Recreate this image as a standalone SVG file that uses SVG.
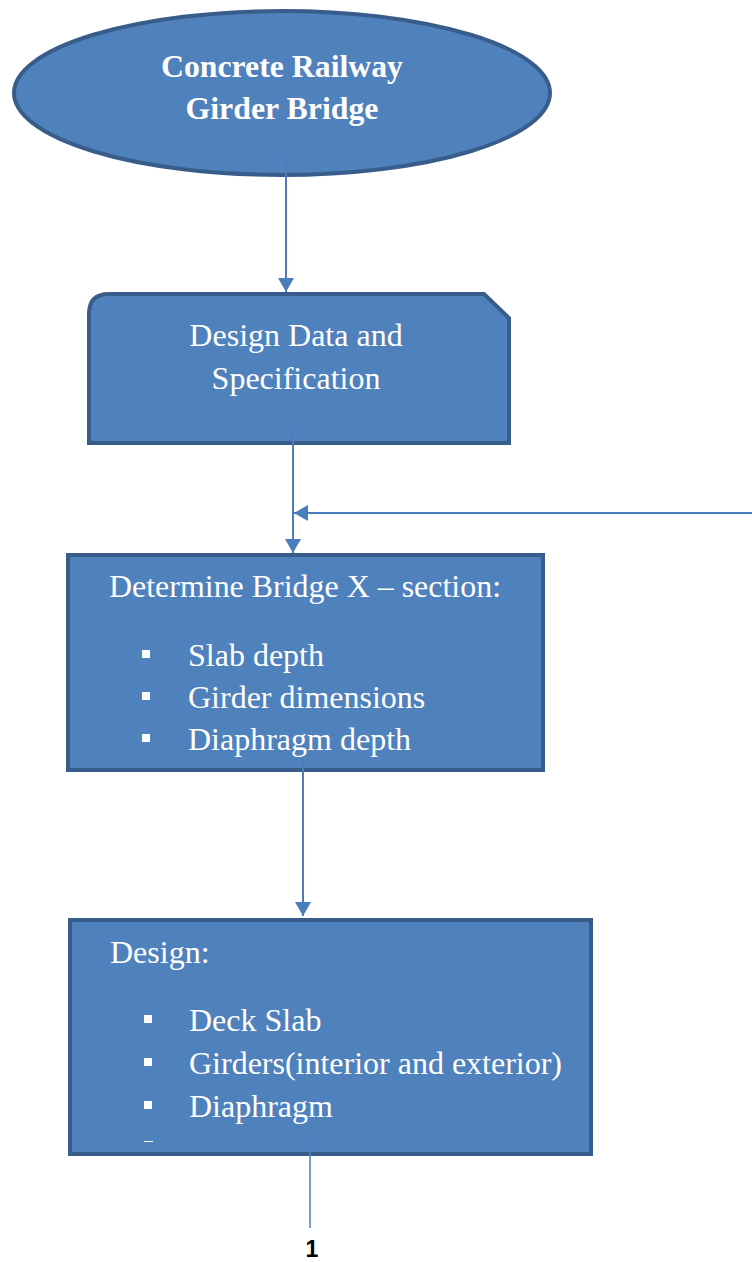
<svg xmlns="http://www.w3.org/2000/svg" width="752" height="1262" viewBox="0 0 752 1262">
<style>
.shape{fill:#4F81BD;stroke:#385D8A;stroke-width:4}
.t{font-family:"Liberation Serif","Times New Roman",serif;font-size:32px;fill:#FFFFFF}
.b{font-weight:bold}
.c{text-anchor:middle}
.bul{fill:#FFFFFF}
.conn{stroke:#4A7EBB;stroke-width:2;fill:none}
</style>
<defs>
<marker id="arr" viewBox="0 0 14 16" refX="14" refY="8" markerWidth="14" markerHeight="16" markerUnits="userSpaceOnUse" orient="auto">
<path d="M0,0 L14,8 L0,16 Z" fill="#4A7EBB"/>
</marker>
</defs>
<g id="node-start">
<ellipse class="shape" cx="282" cy="93" rx="268" ry="82"/>
<text class="t b c" x="282" y="77" textLength="242" lengthAdjust="spacingAndGlyphs">Concrete Railway</text>
<text class="t b c" x="282" y="119" textLength="193" lengthAdjust="spacingAndGlyphs">Girder Bridge</text>
</g>
<g id="node-data">
<path class="shape" d="M89,314 Q89,294 109,294 L484,294 L509,318 L509,443 L89,443 Z"/>
<text class="t c" x="296" y="346">Design Data and</text>
<text class="t c" x="296" y="389">Specification</text>
</g>
<g id="node-section">
<rect class="shape" x="68" y="555" width="475" height="215"/>
<text class="t" x="109" y="597" textLength="392" lengthAdjust="spacingAndGlyphs">Determine Bridge X – section:</text>
<rect class="bul" x="142" y="650" width="8" height="8"/>
<text class="t" x="188" y="666">Slab depth</text>
<rect class="bul" x="142" y="692" width="8" height="8"/>
<text class="t" x="188" y="708">Girder dimensions</text>
<rect class="bul" x="142" y="734" width="8" height="8"/>
<text class="t" x="188" y="750">Diaphragm depth</text>
</g>
<g id="node-design">
<rect class="shape" x="70" y="920" width="521" height="234"/>
<text class="t" x="110" y="963">Design:</text>
<rect class="bul" x="144" y="1015" width="8" height="8"/>
<text class="t" x="189" y="1031">Deck Slab</text>
<rect class="bul" x="144" y="1058" width="8" height="8"/>
<text class="t" x="189" y="1074" textLength="373" lengthAdjust="spacingAndGlyphs">Girders(interior and exterior)</text>
<rect class="bul" x="144" y="1101" width="8" height="8"/>
<text class="t" x="189" y="1117">Diaphragm</text>
<rect class="bul" x="144" y="1141" width="9" height="1"/>
</g>
<g id="connectors">
<line class="conn" x1="286" y1="155" x2="286" y2="292" marker-end="url(#arr)"/>
<line class="conn" x1="293" y1="428" x2="293" y2="553" marker-end="url(#arr)"/>
<line class="conn" x1="752" y1="513" x2="294" y2="513" marker-end="url(#arr)"/>
<line class="conn" x1="303" y1="762" x2="303" y2="916" marker-end="url(#arr)"/>
<line class="conn" x1="310" y1="1139" x2="310" y2="1228" style="stroke-width:1.5"/>
</g>
<g id="page-label">
<text x="312" y="1257" text-anchor="middle" style="font-family:'Liberation Sans',Arial,sans-serif;font-size:23px;font-weight:bold;fill:#000000">1</text>
</g>
</svg>
